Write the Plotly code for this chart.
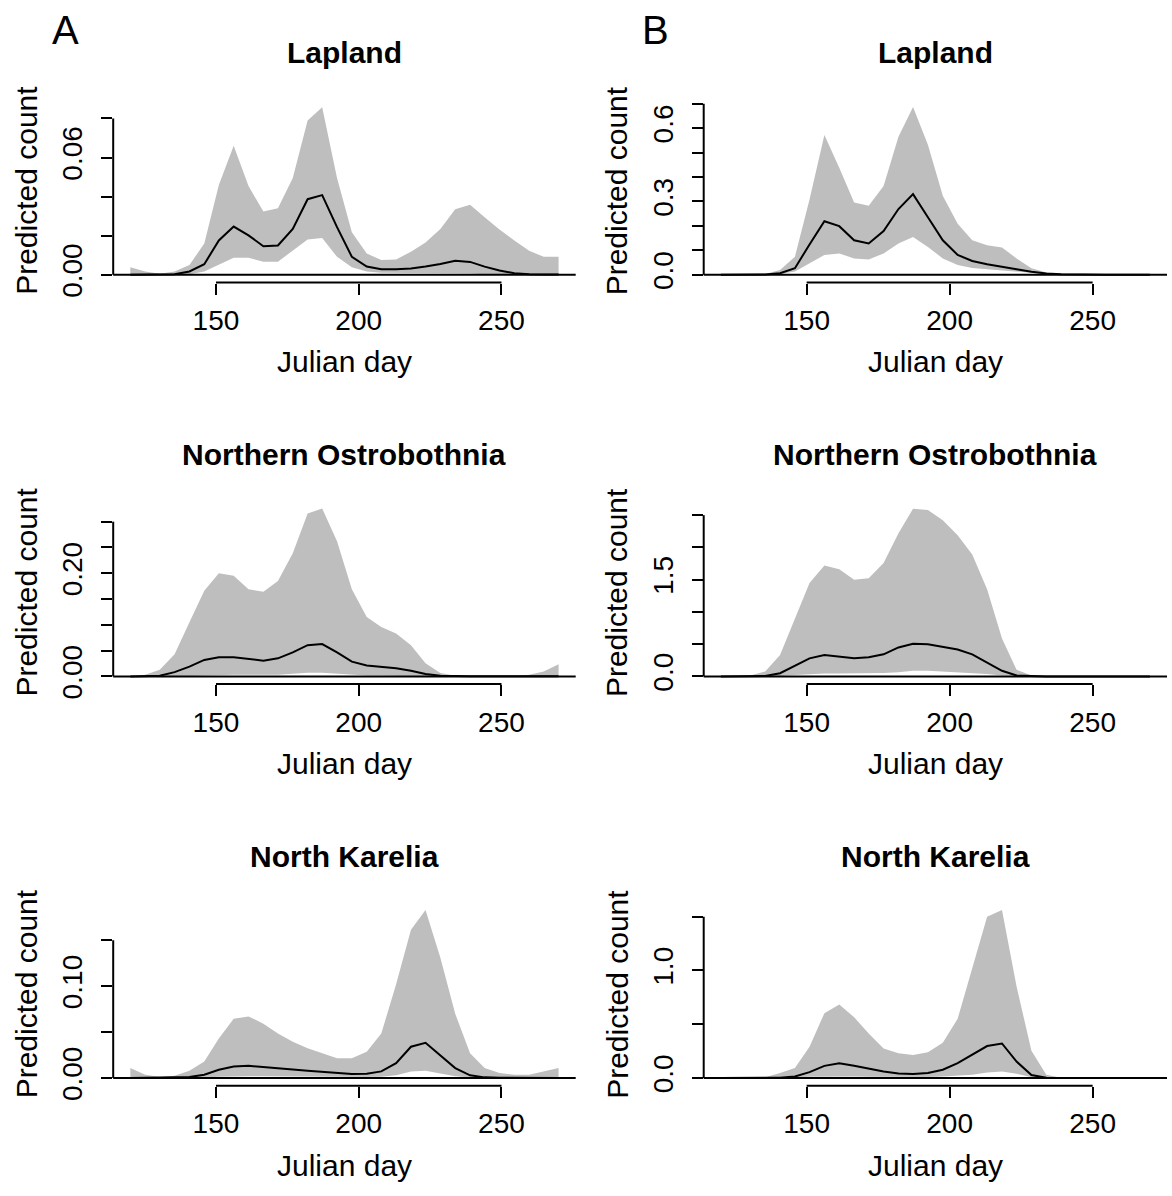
import plotly.graph_objects as go

# ---------------- data ----------------
days = [120.0, 125.2, 130.3, 135.5, 140.7, 145.9, 151.0, 156.2, 161.4, 166.6,
        171.7, 176.9, 182.1, 187.2, 192.4, 197.6, 202.8, 207.9, 213.1, 218.3,
        223.4, 228.6, 233.8, 239.0, 244.1, 249.3, 254.5, 259.7, 264.8, 270.0]

# Column A
lap_A_hi = [0.0039, 0.0017, 0.0005, 0.0017, 0.0050, 0.0160, 0.0460, 0.0660, 0.0454, 0.0324,
            0.0341, 0.0496, 0.0790, 0.0857, 0.0496, 0.0218, 0.0109, 0.0076, 0.0079, 0.0118,
            0.0165, 0.0235, 0.0336, 0.0358, 0.0294, 0.0232, 0.0176, 0.0123, 0.0092, 0.0092]
lap_A_mean = [0.0000, 0.0000, 0.0001, 0.0003, 0.0017, 0.0054, 0.0176, 0.0247, 0.0202, 0.0146,
              0.0150, 0.0235, 0.0387, 0.0408, 0.0244, 0.0092, 0.0042, 0.0029, 0.0029, 0.0032,
              0.0042, 0.0055, 0.0072, 0.0066, 0.0042, 0.0022, 0.0008, 0.0003, 0.0002, 0.0001]
lap_A_lo = [0.0000, 0.0000, 0.0000, 0.0001, 0.0003, 0.0017, 0.0050, 0.0087, 0.0087, 0.0067,
            0.0067, 0.0126, 0.0181, 0.0188, 0.0092, 0.0039, 0.0017, 0.0010, 0.0010, 0.0008,
            0.0008, 0.0008, 0.0008, 0.0007, 0.0003, 0.0002, 0.0001, 0.0001, 0.0001, 0.0001]

nob_A_hi = [0.0000, 0.0030, 0.0128, 0.0430, 0.1050, 0.1660, 0.2000, 0.1950, 0.1690, 0.1640,
            0.1850, 0.2390, 0.3160, 0.3255, 0.2620, 0.1690, 0.1150, 0.0957, 0.0830, 0.0606,
            0.0255, 0.0064, 0.0013, 0.0003, 0.0003, 0.0003, 0.0003, 0.0030, 0.0096, 0.0236]
nob_A_mean = [0.0000, 0.0002, 0.0013, 0.0083, 0.0190, 0.0320, 0.0370, 0.0370, 0.0340, 0.0306,
              0.0350, 0.0466, 0.0606, 0.0626, 0.0466, 0.0287, 0.0210, 0.0190, 0.0160, 0.0109,
              0.0045, 0.0013, 0.0004, 0.0001, 0.0001, 0.0001, 0.0001, 0.0001, 0.0001, 0.0002]
nob_A_lo = [0.0000, 0.0000, 0.0000, 0.0000, 0.0010, 0.0020, 0.0030, 0.0030, 0.0030, 0.0030,
            0.0030, 0.0050, 0.0070, 0.0070, 0.0050, 0.0030, 0.0020, 0.0020, 0.0010, 0.0010,
            0.0000, 0.0000, 0.0000, 0.0000, 0.0000, 0.0000, 0.0000, 0.0000, 0.0000, 0.0000]

nka_A_hi = [0.0108, 0.0036, 0.0011, 0.0025, 0.0079, 0.0180, 0.0430, 0.0646, 0.0671, 0.0592,
            0.0484, 0.0395, 0.0323, 0.0269, 0.0215, 0.0215, 0.0287, 0.0484, 0.1023, 0.1615,
            0.1830, 0.1310, 0.0700, 0.0269, 0.0108, 0.0054, 0.0036, 0.0036, 0.0072, 0.0108]
nka_A_mean = [0.0001, 0.0001, 0.0002, 0.0007, 0.0011, 0.0036, 0.0090, 0.0126, 0.0133, 0.0122,
              0.0108, 0.0093, 0.0079, 0.0065, 0.0050, 0.0043, 0.0047, 0.0072, 0.0161, 0.0341,
              0.0384, 0.0251, 0.0108, 0.0029, 0.0007, 0.0003, 0.0001, 0.0001, 0.0001, 0.0001]
nka_A_lo = [0.0000, 0.0000, 0.0000, 0.0000, 0.0000, 0.0005, 0.0015, 0.0020, 0.0020, 0.0020,
            0.0018, 0.0015, 0.0013, 0.0010, 0.0010, 0.0010, 0.0010, 0.0015, 0.0030, 0.0070,
            0.0080, 0.0050, 0.0020, 0.0005, 0.0000, 0.0000, 0.0000, 0.0000, 0.0000, 0.0000]

# Column B
lap_B_hi = [0.000, 0.000, 0.000, 0.003, 0.020, 0.074, 0.308, 0.572, 0.4375, 0.296,
            0.283, 0.363, 0.565, 0.686, 0.532, 0.323, 0.209, 0.141, 0.121, 0.112,
            0.067, 0.027, 0.0094, 0.0027, 0.0005, 0.000, 0.000, 0.000, 0.000, 0.000]
lap_B_mean = [0.000, 0.000, 0.000, 0.001, 0.0067, 0.027, 0.124, 0.219, 0.199, 0.141,
              0.128, 0.179, 0.269, 0.330, 0.2356, 0.141, 0.081, 0.0565, 0.043, 0.0337,
              0.0229, 0.0121, 0.0054, 0.002, 0.0005, 0.000, 0.000, 0.000, 0.000, 0.000]
lap_B_lo = [0.000, 0.000, 0.000, 0.000, 0.003, 0.0135, 0.047, 0.081, 0.0875, 0.067,
            0.063, 0.0875, 0.128, 0.155, 0.114, 0.067, 0.040, 0.028, 0.023, 0.0175,
            0.012, 0.0067, 0.003, 0.001, 0.000, 0.000, 0.000, 0.000, 0.000, 0.000]

nob_B_hi = [0.000, 0.000, 0.015, 0.077, 0.330, 0.890, 1.450, 1.720, 1.660, 1.500,
            1.520, 1.760, 2.220, 2.600, 2.580, 2.420, 2.190, 1.890, 1.350, 0.587,
            0.102, 0.015, 0.003, 0.000, 0.000, 0.000, 0.000, 0.000, 0.000, 0.000]
nob_B_mean = [0.000, 0.000, 0.000, 0.005, 0.050, 0.163, 0.280, 0.330, 0.306, 0.280,
              0.296, 0.342, 0.449, 0.505, 0.500, 0.459, 0.418, 0.342, 0.219, 0.087,
              0.015, 0.003, 0.000, 0.000, 0.000, 0.000, 0.000, 0.000, 0.000, 0.000]
nob_B_lo = [0.000, 0.000, 0.000, 0.000, 0.005, 0.020, 0.036, 0.046, 0.046, 0.046,
            0.046, 0.051, 0.066, 0.087, 0.087, 0.077, 0.066, 0.051, 0.036, 0.015,
            0.002, 0.000, 0.000, 0.000, 0.000, 0.000, 0.000, 0.000, 0.000, 0.000]

nka_B_hi = [0.000, 0.000, 0.000, 0.006, 0.046, 0.092, 0.290, 0.603, 0.683, 0.566,
            0.413, 0.275, 0.230, 0.214, 0.239, 0.327, 0.551, 1.025, 1.500, 1.561,
            0.850, 0.254, 0.031, 0.003, 0.000, 0.000, 0.000, 0.000, 0.000, 0.000]
nka_B_mean = [0.000, 0.000, 0.000, 0.000, 0.003, 0.015, 0.055, 0.113, 0.138, 0.113,
              0.086, 0.061, 0.043, 0.037, 0.046, 0.077, 0.138, 0.214, 0.297, 0.321,
              0.153, 0.028, 0.003, 0.000, 0.000, 0.000, 0.000, 0.000, 0.000, 0.000]
nka_B_lo = [0.000, 0.000, 0.000, 0.000, 0.000, 0.005, 0.012, 0.015, 0.017, 0.015,
            0.012, 0.010, 0.009, 0.009, 0.010, 0.014, 0.022, 0.031, 0.052, 0.061,
            0.040, 0.008, 0.000, 0.000, 0.000, 0.000, 0.000, 0.000, 0.000, 0.000]

region_titles = ["Lapland", "Northern Ostrobothnia", "North Karelia"]
x_tickvals = [150, 200, 250]
x_label = "Julian day"
y_label = "Predicted count"
panel_letters = ["A", "B"]

yticks_A = [[0, 0.02, 0.04, 0.06, 0.08],
            [0, 0.05, 0.10, 0.15, 0.20, 0.25, 0.30],
            [0, 0.05, 0.10, 0.15]]
ylabels_A = [["0.00", "", "", "0.06", ""],
             ["0.00", "", "", "", "0.20", "", ""],
             ["0.00", "", "0.10", ""]]
yticks_B = [[0, 0.1, 0.2, 0.3, 0.4, 0.5, 0.6, 0.7],
            [0, 0.5, 1.0, 1.5, 2.0, 2.5],
            [0, 0.5, 1.0, 1.5]]
ylabels_B = [["0.0", "", "", "0.3", "", "", "0.6", ""],
             ["0.0", "", "", "1.5", "", ""],
             ["0.0", "", "1.0", ""]]

# ---------------- layout geometry (pixels) ----------------
W, H = 1172, 1196
FONT = "Liberation Sans, Arial, sans-serif"
XRANGE = [114, 276]
col_px = [(113.2, 575.7), (703.7, 1167.0)]
row_zero_px = [278.3, 685.0, 1091.7]
row_top_px = [100.0, 507.0, 914.0]
bottom_off = 7.8
toptick_px = [[120.0, 528.3, 952.3], [105.0, 521.7, 928.3]]

series = [
    [(lap_A_lo, lap_A_mean, lap_A_hi), (nob_A_lo, nob_A_mean, nob_A_hi), (nka_A_lo, nka_A_mean, nka_A_hi)],
    [(lap_B_lo, lap_B_mean, lap_B_hi), (nob_B_lo, nob_B_mean, nob_B_hi), (nka_B_lo, nka_B_mean, nka_B_hi)],
]
yticks = [yticks_A, yticks_B]
ylabels = [ylabels_A, ylabels_B]

fig = go.Figure()
layout = dict(width=W, height=H, margin=dict(l=0, r=0, t=0, b=0),
              paper_bgcolor="white", plot_bgcolor="white", showlegend=False)
shapes = []
annotations = []

n = 0
for c in range(2):
    x0p, x1p = col_px[c]
    for r in range(3):
        n += 1
        xa = "x" if n == 1 else f"x{n}"
        ya = "y" if n == 1 else f"y{n}"
        lo, mean, hi = series[c][r]
        ticks = yticks[c][r]
        zero = row_zero_px[r]
        top = row_top_px[r]
        bottom = zero + bottom_off
        k = (zero - toptick_px[c][r]) / ticks[-1]
        ymin = -bottom_off / k
        ymax = (zero - top) / k

        fig.add_trace(go.Scatter(x=days, y=lo, mode="lines", line=dict(width=0, color="#BEBEBE"),
                                 hoverinfo="skip", xaxis=xa, yaxis=ya))
        fig.add_trace(go.Scatter(x=days, y=hi, mode="lines", line=dict(width=0, color="#BEBEBE"),
                                 fill="tonexty", fillcolor="#BEBEBE", hoverinfo="skip",
                                 xaxis=xa, yaxis=ya))
        fig.add_trace(go.Scatter(x=days, y=mean, mode="lines", line=dict(color="black", width=2),
                                 xaxis=xa, yaxis=ya))

        layout[f"xaxis{'' if n == 1 else n}"] = dict(
            domain=[x0p / W, x1p / W], range=XRANGE, anchor=ya,
            tickmode="array", tickvals=x_tickvals, ticktext=[str(v) for v in x_tickvals],
            ticks="outside", ticklen=11, tickwidth=2, tickcolor="black",
            showline=False, showgrid=False, zeroline=False,
            tickfont=dict(size=28, family=FONT, color="black"), ticklabelstandoff=2)
        layout[f"yaxis{'' if n == 1 else n}"] = dict(
            domain=[1 - bottom / H, 1 - top / H], range=[ymin, ymax], anchor=xa,
            tickmode="array", tickvals=ticks, ticktext=ylabels[c][r], tickangle=-90,
            ticks="outside", ticklen=11, tickwidth=2, tickcolor="black",
            showline=False, showgrid=False, zeroline=False,
            tickfont=dict(size=28, family=FONT, color="black"), ticklabelstandoff=8)

        # R-style detached axis lines
        shapes.append(dict(type="line", xref=xa, yref="paper", x0=x_tickvals[0], x1=x_tickvals[-1],
                           y0=1 - bottom / H, y1=1 - bottom / H, line=dict(color="black", width=2)))
        shapes.append(dict(type="line", xref="paper", yref=ya, x0=x0p / W, x1=x0p / W,
                           y0=0, y1=ticks[-1], line=dict(color="black", width=2)))
        # horizontal zero line
        shapes.append(dict(type="line", xref=f"{xa} domain", yref=ya, x0=0, x1=1, y0=0, y1=0,
                           line=dict(color="black", width=2), layer="above"))

        cx = (x0p + x1p) / 2
        annotations.append(dict(text=f"<b>{region_titles[r]}</b>", x=cx / W, y=1 - (53 + 407 * r) / H,
                                xref="paper", yref="paper", showarrow=False, xanchor="center",
                                yanchor="middle", font=dict(size=30, family=FONT, color="black")))
        annotations.append(dict(text=x_label, x=cx / W, y=1 - (366 + 407 * r) / H,
                                xref="paper", yref="paper", showarrow=False, xanchor="center",
                                yanchor="middle", font=dict(size=30, family=FONT, color="black")))
        annotations.append(dict(text=y_label, x=(x0p - 87) / W, y=1 - ((top + bottom) / 2) / H,
                                xref="paper", yref="paper", showarrow=False, xanchor="center",
                                yanchor="middle", textangle=-90,
                                font=dict(size=30, family=FONT, color="black")))

for c, (lx, ly) in enumerate([(65, 30), (655, 30)]):
    annotations.append(dict(text=panel_letters[c], x=lx / W, y=1 - ly / H, xref="paper", yref="paper",
                            showarrow=False, xanchor="center", yanchor="middle",
                            font=dict(size=40, family=FONT, color="black")))

layout["shapes"] = shapes
layout["annotations"] = annotations
fig.update_layout(**layout)
fig.write_html("out.html")
